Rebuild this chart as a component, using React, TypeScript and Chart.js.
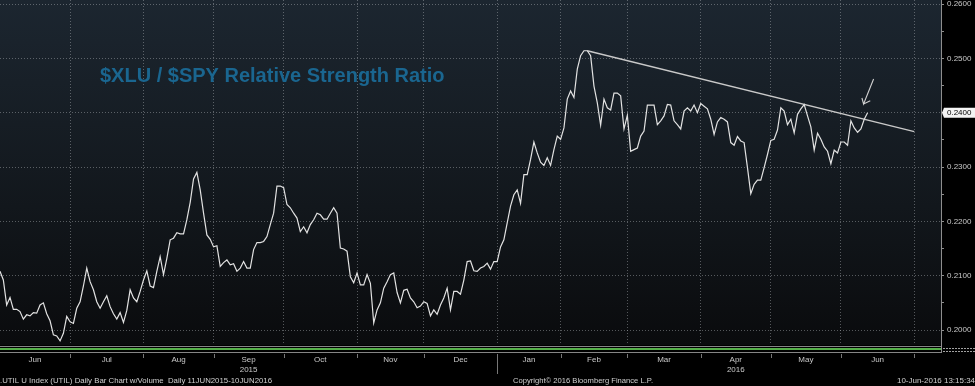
import React, { useEffect, useRef } from 'react';
import { Chart, registerables } from 'chart.js';

Chart.register(...registerables);

// XLU / SPY relative strength ratio, one value per trading day (day 0 = 1 Jun 2015, day 260 = 10 Jun 2016)
const ratio: number[] = [
  0.2108, 0.2092, 0.2046, 0.2060, 0.2038, 0.2038, 0.2034, 0.2020, 0.2028, 0.2026,
  0.2032, 0.2031, 0.2046, 0.2050, 0.2030, 0.2017, 0.1991, 0.1989, 0.1980, 0.1994,
  0.2025, 0.2015, 0.2012, 0.2040, 0.2052, 0.2081, 0.2114, 0.2089, 0.2074, 0.2052,
  0.2040, 0.2052, 0.2063, 0.2043, 0.2030, 0.2020, 0.2032, 0.2014, 0.2036, 0.2074,
  0.2059, 0.2052, 0.2071, 0.2092, 0.2109, 0.2081, 0.2078, 0.2108, 0.2135, 0.2102,
  0.2132, 0.2166, 0.2169, 0.2179, 0.2177, 0.2177, 0.2203, 0.2235, 0.2278, 0.2290,
  0.2258, 0.2215, 0.2175, 0.2167, 0.2153, 0.2155, 0.2117, 0.2124, 0.2129, 0.2120,
  0.2122, 0.2108, 0.2114, 0.2126, 0.2114, 0.2114, 0.2148, 0.2161, 0.2161, 0.2163,
  0.2172, 0.2194, 0.2215, 0.2265, 0.2265, 0.2262, 0.2231, 0.2225, 0.2215, 0.2206,
  0.2181, 0.2190, 0.2179, 0.2194, 0.2203, 0.2215, 0.2212, 0.2204, 0.2204, 0.2215,
  0.2225, 0.2215, 0.2151, 0.2149, 0.2145, 0.2098, 0.2087, 0.2105, 0.2083, 0.2083,
  0.2102, 0.2086, 0.2013, 0.2037, 0.2050, 0.2077, 0.2089, 0.2102, 0.2105, 0.2069,
  0.2050, 0.2073, 0.2075, 0.2059, 0.2052, 0.2041, 0.2044, 0.2052, 0.2049, 0.2026,
  0.2037, 0.2029, 0.2046, 0.2059, 0.2077, 0.2037, 0.2071, 0.2071, 0.2066, 0.2092,
  0.2126, 0.2127, 0.2109, 0.2108, 0.2114, 0.2117, 0.2123, 0.2112, 0.2126, 0.2126,
  0.2153, 0.2166, 0.2197, 0.2228, 0.2249, 0.2258, 0.2233, 0.2286, 0.2286, 0.2314,
  0.2346, 0.2326, 0.2309, 0.2303, 0.2317, 0.2303, 0.2332, 0.2357, 0.2351, 0.2372,
  0.2425, 0.2440, 0.2428, 0.2480, 0.2505, 0.2514, 0.2514, 0.2505, 0.2449, 0.2418,
  0.2377, 0.2425, 0.2409, 0.2405, 0.2436, 0.2436, 0.2431, 0.2370, 0.2395, 0.2329,
  0.2332, 0.2335, 0.2357, 0.2366, 0.2414, 0.2414, 0.2414, 0.2378, 0.2385, 0.2394,
  0.2415, 0.2414, 0.2385, 0.2378, 0.2370, 0.2403, 0.2409, 0.2403, 0.2414, 0.2400,
  0.2417, 0.2412, 0.2407, 0.2388, 0.2360, 0.2383, 0.2391, 0.2388, 0.2383, 0.2345,
  0.2340, 0.2356, 0.2348, 0.2345, 0.2299, 0.2251, 0.2268, 0.2276, 0.2276, 0.2299,
  0.2323, 0.2349, 0.2351, 0.2368, 0.2409, 0.2403, 0.2378, 0.2388, 0.2363, 0.2397,
  0.2407, 0.2415, 0.2394, 0.2374, 0.2331, 0.2362, 0.2351, 0.2337, 0.2329, 0.2306,
  0.2331, 0.2326, 0.2346, 0.2346, 0.2340, 0.2385, 0.2372, 0.2364, 0.2370, 0.2388,
  0.2400,
];

// trading-day index of the first trading day of Jul 2015 ... Jul 2016
const monthStarts: number[] = [21, 43, 64, 85, 107, 127, 149, 168, 188, 210, 231, 252, 274];
const monthLabels: string[] = ['Jun', 'Jul', 'Aug', 'Sep', 'Oct', 'Nov', 'Dec', 'Jan', 'Feb', 'Mar', 'Apr', 'May', 'Jun'];
const yearLabels: string[] = ['', '', '', '2015', '', '', '', '', '', '', '2016', '', ''];
const yearBoundary = 149;

const xMax = 282;
const yMin = 0.19724;
const yMax = 0.26074;
const yTickValues: number[] = [0.2, 0.205, 0.21, 0.215, 0.22, 0.225, 0.23, 0.235, 0.24, 0.245, 0.25, 0.255, 0.26];

// resistance trend line (from Feb peak) and the hand-drawn arrow
const trendDays: number[] = [176, 274];
const trendValues: number[] = [0.2514, 0.2365];
const arrowDays: number[] = [261.8, 258.8, 258.3, 258.8, 260.8];
const arrowValues: number[] = [0.2462, 0.2416, 0.2427, 0.2416, 0.2422];

const titleText = '$XLU / $SPY Relative Strength Ratio';
const footerLeft = '.UTIL U Index (UTIL) Daily Bar Chart w/Volume  Daily 11JUN2015-10JUN2016';
const footerMid = 'Copyright\u00A9 2016 Bloomberg Finance L.P.';
const footerRight = '10-Jun-2016 13:15:34';

const FONT = '"Liberation Sans", Arial, sans-serif';
const GRID = 'rgba(175,180,185,0.45)';

export default function App() {
  const ref = useRef<HTMLCanvasElement>(null);

  useEffect(() => {
    document.body.style.margin = '0';
    document.body.style.background = '#000';
    const canvas = ref.current!;
    const monthMids = monthLabels.map((_, i) => ((i === 0 ? 0 : monthStarts[i - 1]) + monthStarts[i]) / 2);
    const xTicks = [...monthStarts, ...monthMids].sort((a, b) => a - b);
    const isMajorY = (v: number) => Math.round(v * 1000) % 10 === 0;

    const bgPlugin = {
      id: 'bg',
      beforeDraw(chart: any) {
        const { ctx, chartArea } = chart;
        const { left, top, right, bottom } = chartArea;
        ctx.save();
        ctx.fillStyle = '#000';
        ctx.fillRect(0, 0, chart.width, chart.height);
        const g = ctx.createLinearGradient(0, top, 0, bottom);
        g.addColorStop(0, '#1c2630');
        g.addColorStop(0.6, '#12171c');
        g.addColorStop(1, '#0a0b0d');
        ctx.fillStyle = g;
        ctx.fillRect(left, top, right - left, bottom - top);
        ctx.restore();
      },
      beforeDatasetsDraw(chart: any) {
        const { ctx } = chart;
        ctx.save();
        ctx.font = `bold 20px ${FONT}`;
        ctx.fillStyle = '#1a6690';
        ctx.textBaseline = 'alphabetic';
        ctx.fillText(titleText, 100, 82);
        ctx.restore();
      },
      afterDraw(chart: any) {
        const { ctx, chartArea, scales } = chart;
        const { left, right, bottom } = chartArea;
        const xs = scales.x;
        const ys = scales.y;
        ctx.save();
        // bottom band
        ctx.fillStyle = '#858585';
        ctx.fillRect(left, bottom + 1, right - left, 1);
        ctx.fillStyle = '#56b04a';
        ctx.fillRect(left, bottom + 3, right - left, 2);
        ctx.fillStyle = '#858585';
        ctx.fillRect(left, bottom + 7, right - left, 1);
        // right-axis part of the band
        ctx.strokeStyle = '#a0a0a0';
        ctx.lineWidth = 1;
        ctx.setLineDash([2, 1]);
        ctx.beginPath();
        ctx.moveTo(right + 2, bottom + 3.5);
        ctx.lineTo(chart.width, bottom + 3.5);
        ctx.moveTo(right + 2, bottom + 6.5);
        ctx.lineTo(chart.width, bottom + 6.5);
        ctx.stroke();
        ctx.setLineDash([]);
        // axis line extension
        ctx.strokeStyle = '#8e8e8e';
        ctx.beginPath();
        ctx.moveTo(Math.round(right) + 0.5, bottom);
        ctx.lineTo(Math.round(right) + 0.5, bottom + 8);
        ctx.stroke();
        // month boundary ticks
        ctx.strokeStyle = '#777';
        ctx.beginPath();
        monthStarts.forEach((d) => {
          const px = Math.round(xs.getPixelForValue(d)) + 0.5;
          ctx.moveTo(px, bottom + 9);
          ctx.lineTo(px, bottom + 13);
        });
        const yb = Math.round(xs.getPixelForValue(yearBoundary)) + 0.5;
        ctx.moveTo(yb, bottom + 9);
        ctx.lineTo(yb, bottom + 29);
        ctx.stroke();
        // last value marker
        const last = ratio[ratio.length - 1];
        const py = ys.getPixelForValue(last);
        ctx.fillStyle = '#f4f4f4';
        ctx.beginPath();
        ctx.moveTo(right + 1, py);
        ctx.lineTo(right + 3, py - 5);
        ctx.lineTo(chart.width, py - 5);
        ctx.lineTo(chart.width, py + 5);
        ctx.lineTo(right + 3, py + 5);
        ctx.closePath();
        ctx.fill();
        ctx.fillStyle = '#000';
        ctx.font = `8px ${FONT}`;
        ctx.textBaseline = 'middle';
        ctx.fillText(last.toFixed(4), right + 6, py + 0.5);
        // footer
        ctx.fillStyle = '#cfcfcf';
        ctx.textBaseline = 'alphabetic';
        ctx.fillText(footerLeft, 0, 383, 272);
        ctx.fillText(footerMid, 513, 383, 140);
        ctx.textAlign = 'right';
        ctx.fillText(footerRight, chart.width, 383, 78);
        ctx.restore();
      },
    };

    const chart = new Chart(canvas, {
      type: 'line',
      data: {
        datasets: [
          {
            data: ratio.map((v, i) => ({ x: i, y: v })),
            borderColor: '#e2e2e2',
            borderWidth: 1.2,
            pointRadius: 0,
            tension: 0,
          },
          {
            data: trendDays.map((d, i) => ({ x: d, y: trendValues[i] })),
            borderColor: '#c9c9c9',
            borderWidth: 1.3,
            pointRadius: 0,
          },
          {
            data: arrowDays.map((d, i) => ({ x: d, y: arrowValues[i] })),
            borderColor: '#d0d0d0',
            borderWidth: 1.1,
            pointRadius: 0,
          },
        ],
      },
      plugins: [bgPlugin],
      options: {
        animation: false,
        responsive: false,
        devicePixelRatio: 1,
        events: [],
        layout: { padding: 0 },
        plugins: { legend: { display: false }, tooltip: { enabled: false } },
        scales: {
          x: {
            type: 'linear',
            position: 'bottom',
            min: 0,
            max: xMax,
            afterBuildTicks: (s: any) => {
              s.ticks = xTicks.map((v) => ({ value: v }));
            },
            afterFit: (s: any) => {
              s.height = 41;
              s.paddingLeft = 0;
              s.paddingRight = 0;
            },
            border: { display: false, dash: [1, 2] },
            grid: {
              drawTicks: false,
              color: (c: any) => (c.tick && monthStarts.includes(c.tick.value) ? GRID : 'transparent'),
              lineWidth: 1,
            },
            ticks: {
              autoSkip: false,
              maxRotation: 0,
              padding: 10,
              color: '#c8c8c8',
              font: { family: FONT, size: 8, lineHeight: 1.25 },
              callback: (v: any) => {
                const i = monthMids.indexOf(v);
                if (i < 0) return '';
                return yearLabels[i] ? [monthLabels[i], yearLabels[i]] : monthLabels[i];
              },
            },
          },
          y: {
            type: 'linear',
            position: 'right',
            min: yMin,
            max: yMax,
            afterBuildTicks: (s: any) => {
              s.ticks = yTickValues.map((v) => ({ value: v }));
            },
            afterFit: (s: any) => {
              s.width = 34;
              s.paddingTop = 0;
              s.paddingBottom = 0;
            },
            border: { display: true, color: '#8e8e8e', width: 1, dash: [1, 2] },
            grid: {
              color: (c: any) => (c.tick && isMajorY(c.tick.value) ? GRID : 'transparent'),
              tickColor: '#8e8e8e',
              tickLength: 3,
              tickBorderDash: [],
              lineWidth: 1,
            },
            ticks: {
              padding: 3,
              color: '#c8c8c8',
              font: { family: FONT, size: 8 },
              callback: (v: any) => (isMajorY(v) ? Number(v).toFixed(4) : ''),
            },
          },
        },
      },
    } as any);

    return () => chart.destroy();
  }, []);

  return (
    <div style={{ width: 975, height: 386, background: '#000' }}>
      <canvas ref={ref} width={975} height={386} style={{ display: 'block' }} />
    </div>
  );
}
